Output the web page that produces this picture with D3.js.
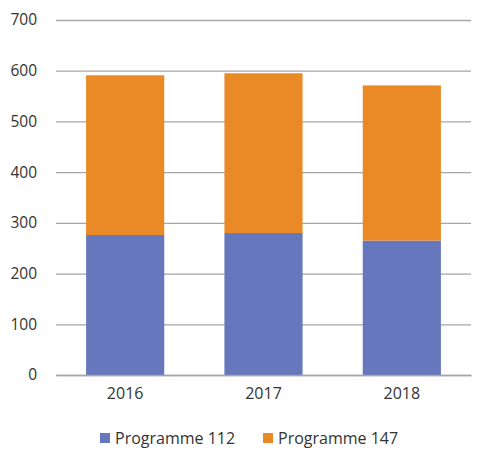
<!DOCTYPE html>
<html>
<head>
<meta charset="utf-8">
<script src="https://cdn.jsdelivr.net/npm/d3@7"></script>
<style>
  body { margin: 0; background: #fff; }
  text { font-family: "Open Sans", sans-serif; fill: #333; }
</style>
</head>
<body>
<div id="area_chart"></div>
<script>
const years = ["2016", "2017", "2018"];
const prog112 = [276, 280, 265];
const prog147 = [315, 315, 306];
const seriesNames = ["Programme 112", "Programme 147"];
const yTicks = [0, 100, 200, 300, 400, 500, 600, 700];

const colors = ["#6677bd", "#e98a26"];

let dimensions = {
    width: 489,
    height: 460,
    margin: { top: 20, left: 56, right: 18, bottom: 85 }
};
dimensions.boundedWidth = dimensions.width - dimensions.margin.left - dimensions.margin.right;
dimensions.boundedHeight = dimensions.height - dimensions.margin.top - dimensions.margin.bottom;

const svg = d3.select("#area_chart").append("svg")
    .attr("width", dimensions.width)
    .attr("height", dimensions.height);

const bounded = svg.append("g")
    .attr("transform", `translate(${dimensions.margin.left},${dimensions.margin.top})`);

const rows = years.map((y, i) => ({ year: y, p112: prog112[i], p147: prog147[i] }));
const stacked = d3.stack().keys(["p112", "p147"])(rows);

const xScale = d3.scaleBand()
    .domain(years)
    .range([0, dimensions.boundedWidth])
    .paddingInner(0.435)
    .paddingOuter(0.2175);

const yScale = d3.scaleLinear()
    .domain([0, 700])
    .range([dimensions.boundedHeight, 0]);

// gridlines
const yAxis = d3.axisLeft(yScale)
    .tickValues(yTicks)
    .tickSize(-dimensions.boundedWidth)
    .tickPadding(19);

const yG = bounded.append("g").call(yAxis);
yG.select(".domain").remove();
yG.selectAll(".tick line").attr("stroke", "#a6a6a6").attr("stroke-width", 1.3);
yG.selectAll(".tick text").style("font-size", "15.5px").attr("fill", "#1a1a1a");

bounded.selectAll(".series")
    .data(stacked)
    .join("g")
    .attr("fill", (d, i) => colors[i])
    .selectAll("rect")
    .data(d => d)
    .join("rect")
    .attr("x", d => xScale(d.data.year))
    .attr("y", d => yScale(d[1]))
    .attr("width", xScale.bandwidth())
    .attr("height", d => yScale(d[0]) - yScale(d[1]));

const xAxis = d3.axisBottom(xScale).tickSize(0).tickPadding(13);
const xG = bounded.append("g")
    .attr("transform", `translate(0,${dimensions.boundedHeight})`)
    .call(xAxis);
xG.select(".domain").attr("stroke", "#a6a6a6").attr("stroke-width", 1.3);
xG.selectAll(".tick text").style("font-size", "16px").attr("fill", "#1a1a1a");

// legend
const legend = svg.append("g").attr("transform", "translate(100,438)");
const legendX = [0, 163];
seriesNames.forEach((name, i) => {
    const g = legend.append("g").attr("transform", `translate(${legendX[i]},0)`);
    g.append("rect")
        .attr("x", 0).attr("y", -5)
        .attr("width", 10).attr("height", 10)
        .attr("fill", colors[i]);
    g.append("text")
        .attr("x", 15).attr("y", 0)
        .attr("dy", "0.35em")
        .style("font-size", "16px")
        .attr("fill", "#1a1a1a")
        .text(name);
});
</script>
</body>
</html>
